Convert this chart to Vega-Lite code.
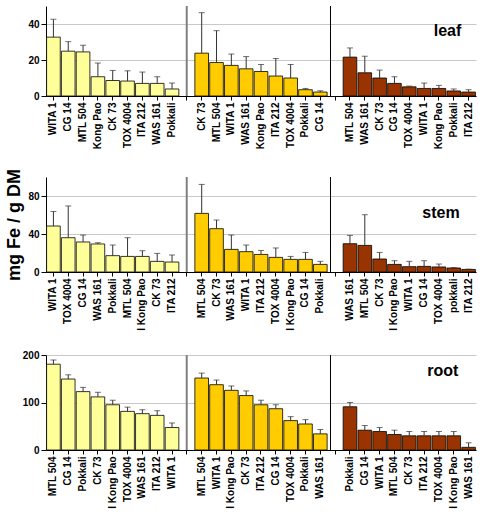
{
  "$schema": "https://vega.github.io/schema/vega-lite/v6.json",
  "spacing": 19,
  "datasets": {
    "fe": [
      {"organ":"leaf","stage":"seedling","key":"s|WITA 1","value":32.7,"err":42.6},
      {"organ":"leaf","stage":"seedling","key":"s|CG 14","value":24.9,"err":30.2},
      {"organ":"leaf","stage":"seedling","key":"s|MTL 504","value":24.5,"err":28.2},
      {"organ":"leaf","stage":"seedling","key":"s|Kong Pao","value":10.7,"err":18.3},
      {"organ":"leaf","stage":"seedling","key":"s|CK 73","value":8.6,"err":14.2},
      {"organ":"leaf","stage":"seedling","key":"s|TOX 4004","value":8.3,"err":14.0},
      {"organ":"leaf","stage":"seedling","key":"s|ITA 212","value":7.0,"err":13.3},
      {"organ":"leaf","stage":"seedling","key":"s|WAS 161","value":7.0,"err":10.7},
      {"organ":"leaf","stage":"seedling","key":"s|Pokkali","value":3.9,"err":7.2},
      {"organ":"leaf","stage":"vegetative","key":"v|CK 73","value":23.8,"err":46.3},
      {"organ":"leaf","stage":"vegetative","key":"v|MTL 504","value":18.6,"err":36.3},
      {"organ":"leaf","stage":"vegetative","key":"v|WITA 1","value":17.0,"err":23.3},
      {"organ":"leaf","stage":"vegetative","key":"v|WAS 161","value":15.1,"err":21.9},
      {"organ":"leaf","stage":"vegetative","key":"v|Kong Pao","value":13.6,"err":17.5},
      {"organ":"leaf","stage":"vegetative","key":"v|ITA 212","value":11.1,"err":20.8},
      {"organ":"leaf","stage":"vegetative","key":"v|TOX 4004","value":10.0,"err":17.5},
      {"organ":"leaf","stage":"vegetative","key":"v|Pokkali","value":3.5,"err":4.2},
      {"organ":"leaf","stage":"vegetative","key":"v|CG 14","value":2.2,"err":2.9},
      {"organ":"leaf","stage":"reproductive","key":"r|MTL 504","value":21.6,"err":26.7},
      {"organ":"leaf","stage":"reproductive","key":"r|WAS 161","value":12.9,"err":22.1},
      {"organ":"leaf","stage":"reproductive","key":"r|CK 73","value":10.0,"err":14.4},
      {"organ":"leaf","stage":"reproductive","key":"r|CG 14","value":7.0,"err":10.7},
      {"organ":"leaf","stage":"reproductive","key":"r|TOX 4004","value":5.1,"err":5.5},
      {"organ":"leaf","stage":"reproductive","key":"r|WITA 1","value":4.2,"err":7.2},
      {"organ":"leaf","stage":"reproductive","key":"r|Kong Pao","value":4.2,"err":5.9},
      {"organ":"leaf","stage":"reproductive","key":"r|Pokkali","value":2.8,"err":3.9},
      {"organ":"leaf","stage":"reproductive","key":"r|ITA 212","value":2.2,"err":3.5},
      {"organ":"stem","stage":"seedling","key":"s|WITA 1","value":48.4,"err":63.8},
      {"organ":"stem","stage":"seedling","key":"s|TOX 4004","value":36.1,"err":69.5},
      {"organ":"stem","stage":"seedling","key":"s|CG 14","value":31.6,"err":38.9},
      {"organ":"stem","stage":"seedling","key":"s|WAS 161","value":29.5,"err":30.8},
      {"organ":"stem","stage":"seedling","key":"s|Pokkali","value":17.2,"err":28.4},
      {"organ":"stem","stage":"seedling","key":"s|MTL 504","value":16.4,"err":36.1},
      {"organ":"stem","stage":"seedling","key":"s|I Kong Pao","value":16.4,"err":22.4},
      {"organ":"stem","stage":"seedling","key":"s|CK 73","value":11.2,"err":19.6},
      {"organ":"stem","stage":"seedling","key":"s|ITA 212","value":10.5,"err":17.9},
      {"organ":"stem","stage":"vegetative","key":"v|MTL 504","value":61.7,"err":92.2},
      {"organ":"stem","stage":"vegetative","key":"v|CK 73","value":45.6,"err":54.7},
      {"organ":"stem","stage":"vegetative","key":"v|WAS 161","value":23.8,"err":38.9},
      {"organ":"stem","stage":"vegetative","key":"v|WITA 1","value":21.4,"err":28.4},
      {"organ":"stem","stage":"vegetative","key":"v|ITA 212","value":18.5,"err":22.7},
      {"organ":"stem","stage":"vegetative","key":"v|TOX 4004","value":15.4,"err":25.3},
      {"organ":"stem","stage":"vegetative","key":"v|I Kong Pao","value":13.3,"err":16.4},
      {"organ":"stem","stage":"vegetative","key":"v|CG 14","value":13.3,"err":20.6},
      {"organ":"stem","stage":"vegetative","key":"v|Pokkali","value":8.0,"err":11.2},
      {"organ":"stem","stage":"reproductive","key":"r|WAS 161","value":29.8,"err":38.5},
      {"organ":"stem","stage":"reproductive","key":"r|MTL 504","value":28.0,"err":60.3},
      {"organ":"stem","stage":"reproductive","key":"r|CK 73","value":13.7,"err":20.6},
      {"organ":"stem","stage":"reproductive","key":"r|I Kong Pao","value":8.0,"err":11.9},
      {"organ":"stem","stage":"reproductive","key":"r|WITA 1","value":5.6,"err":11.2},
      {"organ":"stem","stage":"reproductive","key":"r|CG 14","value":5.9,"err":11.9},
      {"organ":"stem","stage":"reproductive","key":"r|TOX 4004","value":5.3,"err":8.4},
      {"organ":"stem","stage":"reproductive","key":"r|pokkali","value":4.2,"err":4.6},
      {"organ":"stem","stage":"reproductive","key":"r|ITA 212","value":2.7,"err":3.0},
      {"organ":"root","stage":"seedling","key":"s|MTL 504","value":180.6,"err":189.6},
      {"organ":"root","stage":"seedling","key":"s|CG 14","value":149.4,"err":158.3},
      {"organ":"root","stage":"seedling","key":"s|Pokkali","value":122.9,"err":131.9},
      {"organ":"root","stage":"seedling","key":"s|CK 73","value":111.8,"err":121.5},
      {"organ":"root","stage":"seedling","key":"s|I Kong Pao","value":95.2,"err":104.8},
      {"organ":"root","stage":"seedling","key":"s|TOX 4004","value":81.3,"err":90.2},
      {"organ":"root","stage":"seedling","key":"s|WAS 161","value":76.5,"err":84.8},
      {"organ":"root","stage":"seedling","key":"s|ITA 212","value":72.9,"err":82.7},
      {"organ":"root","stage":"seedling","key":"s|WITA 1","value":47.3,"err":56.9},
      {"organ":"root","stage":"vegetative","key":"v|MTL 504","value":151.5,"err":161.9},
      {"organ":"root","stage":"vegetative","key":"v|WITA 1","value":137.5,"err":147.3},
      {"organ":"root","stage":"vegetative","key":"v|I Kong Pao","value":125.6,"err":134.8},
      {"organ":"root","stage":"vegetative","key":"v|CK 73","value":114.6,"err":124.4},
      {"organ":"root","stage":"vegetative","key":"v|ITA 212","value":95.2,"err":104.8},
      {"organ":"root","stage":"vegetative","key":"v|CG 14","value":86.9,"err":95.2},
      {"organ":"root","stage":"vegetative","key":"v|TOX 4004","value":61.9,"err":70.2},
      {"organ":"root","stage":"vegetative","key":"v|Pokkali","value":54.8,"err":64.0},
      {"organ":"root","stage":"vegetative","key":"v|WAS 161","value":34.0,"err":43.1},
      {"organ":"root","stage":"reproductive","key":"r|Pokkali","value":91.0,"err":100.0},
      {"organ":"root","stage":"reproductive","key":"r|CG 14","value":41.7,"err":51.5},
      {"organ":"root","stage":"reproductive","key":"r|WITA 1","value":38.9,"err":47.3},
      {"organ":"root","stage":"reproductive","key":"r|MTL 504","value":32.6,"err":41.7},
      {"organ":"root","stage":"reproductive","key":"r|CK 73","value":29.9,"err":38.9},
      {"organ":"root","stage":"reproductive","key":"r|ITA 212","value":29.9,"err":38.9},
      {"organ":"root","stage":"reproductive","key":"r|TOX 4004","value":29.9,"err":38.9},
      {"organ":"root","stage":"reproductive","key":"r|I Kong Pao","value":29.9,"err":38.9},
      {"organ":"root","stage":"reproductive","key":"r|WAS 161","value":5.6,"err":15.2}
    ]
  },
  "vconcat": [
    {
      "width": 430,
      "height": 90,
      "data": {"name": "fe"},
      "transform": [{"filter": "datum.organ == 'leaf'"}],
      "layer": [
        {
          "mark": {"type": "bar", "stroke": "black", "strokeWidth": 0.8},
          "encoding": {
            "x": {"field": "key", "type": "nominal",
              "scale": {"domain": ["s|WITA 1","s|CG 14","s|MTL 504","s|Kong Pao","s|CK 73","s|TOX 4004","s|ITA 212","s|WAS 161","s|Pokkali","gap1","v|CK 73","v|MTL 504","v|WITA 1","v|WAS 161","v|Kong Pao","v|ITA 212","v|TOX 4004","v|Pokkali","v|CG 14","gap2","r|MTL 504","r|WAS 161","r|CK 73","r|CG 14","r|TOX 4004","r|WITA 1","r|Kong Pao","r|Pokkali","r|ITA 212"], "paddingInner": 0.08, "paddingOuter": 0.04},
              "axis": {"title": null, "labelOverlap": false, "labelExpr": "indexof(datum.value, '|') > 0 ? substring(datum.value, 2) : ''"}},
            "y": {"field": "value", "type": "quantitative",
              "scale": {"domain": [0, 50], "nice": false},
              "axis": {"title": null, "values": [0, 10, 20, 30, 40, 50], "labelOverlap": false, "labelFlush": false}},
            "color": {"field": "stage", "type": "nominal", "legend": null,
              "scale": {"domain": ["seedling", "vegetative", "reproductive"], "range": ["#FFFF99", "#FFCC00", "#993300"]}}
          }
        },
        {
          "mark": {"type": "rule", "color": "#333333", "strokeWidth": 1},
          "encoding": {"x": {"field": "key", "type": "nominal"}, "y": {"field": "value", "type": "quantitative"}, "y2": {"field": "err"}}
        },
        {
          "mark": {"type": "tick", "color": "#333333", "size": 6, "thickness": 1},
          "encoding": {"x": {"field": "key", "type": "nominal"}, "y": {"field": "err", "type": "quantitative"}}
        },
        {
          "data": {"values": [{"organ": "leaf"}]},
          "mark": {"type": "rule", "color": "#808080", "strokeWidth": 2},
          "encoding": {"x": {"datum": "gap1", "bandPosition": 0.49, "title": null}}
        },
        {
          "data": {"values": [{"organ": "leaf"}]},
          "mark": {"type": "rule", "color": "#000000", "strokeWidth": 1},
          "encoding": {"x": {"datum": "gap2", "bandPosition": 0.16, "title": null}}
        },
        {
          "data": {"values": [{"organ": "leaf"}]},
          "mark": {"type": "text", "fontSize": 16, "fontWeight": "bold", "baseline": "middle", "align": "center", "color": "black"},
          "encoding": {"x": {"datum": "r|Pokkali", "bandPosition": 0.04, "title": null}, "y": {"datum": 36, "title": null}, "text": {"value": "leaf"}}
        }
      ]
    },
    {
      "width": 430,
      "height": 95,
      "data": {"name": "fe"},
      "transform": [{"filter": "datum.organ == 'stem'"}],
      "layer": [
        {
          "mark": {"type": "bar", "stroke": "black", "strokeWidth": 0.8},
          "encoding": {
            "x": {"field": "key", "type": "nominal",
              "scale": {"domain": ["s|WITA 1","s|TOX 4004","s|CG 14","s|WAS 161","s|Pokkali","s|MTL 504","s|I Kong Pao","s|CK 73","s|ITA 212","gap1","v|MTL 504","v|CK 73","v|WAS 161","v|WITA 1","v|ITA 212","v|TOX 4004","v|I Kong Pao","v|CG 14","v|Pokkali","gap2","r|WAS 161","r|MTL 504","r|CK 73","r|I Kong Pao","r|WITA 1","r|CG 14","r|TOX 4004","r|pokkali","r|ITA 212"], "paddingInner": 0.08, "paddingOuter": 0.04},
              "axis": {"title": null, "labelOverlap": false, "labelExpr": "indexof(datum.value, '|') > 0 ? substring(datum.value, 2) : ''"}},
            "y": {"field": "value", "type": "quantitative",
              "scale": {"domain": [0, 100], "nice": false},
              "axis": {"title": "mg Fe / g DM", "values": [0, 20, 40, 60, 80, 100], "labelOverlap": false, "labelFlush": false, "titleFontSize": 18, "titleFontWeight": "bold", "titleColor": "black"}},
            "color": {"field": "stage", "type": "nominal", "legend": null,
              "scale": {"domain": ["seedling", "vegetative", "reproductive"], "range": ["#FFFF99", "#FFCC00", "#993300"]}}
          }
        },
        {
          "mark": {"type": "rule", "color": "#333333", "strokeWidth": 1},
          "encoding": {"x": {"field": "key", "type": "nominal"}, "y": {"field": "value", "type": "quantitative"}, "y2": {"field": "err"}}
        },
        {
          "mark": {"type": "tick", "color": "#333333", "size": 6, "thickness": 1},
          "encoding": {"x": {"field": "key", "type": "nominal"}, "y": {"field": "err", "type": "quantitative"}}
        },
        {
          "data": {"values": [{"organ": "stem"}]},
          "mark": {"type": "rule", "color": "#808080", "strokeWidth": 2},
          "encoding": {"x": {"datum": "gap1", "bandPosition": 0.49, "title": null}}
        },
        {
          "data": {"values": [{"organ": "stem"}]},
          "mark": {"type": "rule", "color": "#000000", "strokeWidth": 1},
          "encoding": {"x": {"datum": "gap2", "bandPosition": 0.16, "title": null}}
        },
        {
          "data": {"values": [{"organ": "stem"}]},
          "mark": {"type": "text", "fontSize": 16, "fontWeight": "bold", "baseline": "middle", "align": "center", "color": "black"},
          "encoding": {"x": {"datum": "r|TOX 4004", "bandPosition": 0.65, "title": null}, "y": {"datum": 62.4, "title": "mg Fe / g DM"}, "text": {"value": "stem"}}
        }
      ]
    },
    {
      "width": 430,
      "height": 95,
      "data": {"name": "fe"},
      "transform": [{"filter": "datum.organ == 'root'"}],
      "layer": [
        {
          "mark": {"type": "bar", "stroke": "black", "strokeWidth": 0.8},
          "encoding": {
            "x": {"field": "key", "type": "nominal",
              "scale": {"domain": ["s|MTL 504","s|CG 14","s|Pokkali","s|CK 73","s|I Kong Pao","s|TOX 4004","s|WAS 161","s|ITA 212","s|WITA 1","gap1","v|MTL 504","v|WITA 1","v|I Kong Pao","v|CK 73","v|ITA 212","v|CG 14","v|TOX 4004","v|Pokkali","v|WAS 161","gap2","r|Pokkali","r|CG 14","r|WITA 1","r|MTL 504","r|CK 73","r|ITA 212","r|TOX 4004","r|I Kong Pao","r|WAS 161"], "paddingInner": 0.08, "paddingOuter": 0.04},
              "axis": {"title": null, "labelOverlap": false, "labelExpr": "indexof(datum.value, '|') > 0 ? substring(datum.value, 2) : ''"}},
            "y": {"field": "value", "type": "quantitative",
              "scale": {"domain": [0, 200], "nice": false},
              "axis": {"title": null, "values": [0, 50, 100, 150, 200], "labelOverlap": false, "labelFlush": false}},
            "color": {"field": "stage", "type": "nominal", "legend": null,
              "scale": {"domain": ["seedling", "vegetative", "reproductive"], "range": ["#FFFF99", "#FFCC00", "#993300"]}}
          }
        },
        {
          "mark": {"type": "rule", "color": "#333333", "strokeWidth": 1},
          "encoding": {"x": {"field": "key", "type": "nominal"}, "y": {"field": "value", "type": "quantitative"}, "y2": {"field": "err"}}
        },
        {
          "mark": {"type": "tick", "color": "#333333", "size": 6, "thickness": 1},
          "encoding": {"x": {"field": "key", "type": "nominal"}, "y": {"field": "err", "type": "quantitative"}}
        },
        {
          "data": {"values": [{"organ": "root"}]},
          "mark": {"type": "rule", "color": "#808080", "strokeWidth": 2},
          "encoding": {"x": {"datum": "gap1", "bandPosition": 0.49, "title": null}}
        },
        {
          "data": {"values": [{"organ": "root"}]},
          "mark": {"type": "rule", "color": "#000000", "strokeWidth": 1},
          "encoding": {"x": {"datum": "gap2", "bandPosition": 0.16, "title": null}}
        },
        {
          "data": {"values": [{"organ": "root"}]},
          "mark": {"type": "text", "fontSize": 16, "fontWeight": "bold", "baseline": "middle", "align": "center", "color": "black"},
          "encoding": {"x": {"datum": "r|TOX 4004", "bandPosition": 0.78, "title": null}, "y": {"datum": 167, "title": null}, "text": {"value": "root"}}
        }
      ]
    }
  ],
  "config": {
    "font": "Liberation Sans",
    "view": {"stroke": null},
    "axis": {"labelFontWeight": "bold", "labelColor": "black", "domainColor": "black", "tickColor": "black"},
    "axisY": {"grid": true, "gridColor": "#c8c8c8", "tickSize": 5, "labelFontSize": 10, "labelOverlap": false},
    "axisX": {"grid": false, "tickSize": 4, "labelAngle": 270, "labelFontSize": 10, "labelOverlap": false}
  }
}
